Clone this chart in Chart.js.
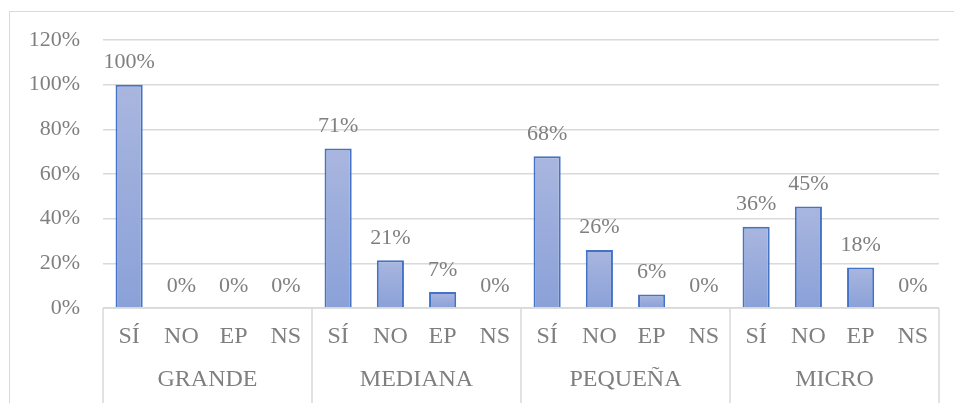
<!DOCTYPE html>
<html>
<head>
<meta charset="utf-8">
<script src="https://cdn.jsdelivr.net/npm/chart.js@4/dist/chart.umd.min.js"></script>
<style>
  html, body { margin: 0; padding: 0; background: #fff; }
  #wrap { position: relative; width: 954px; height: 403px; overflow: hidden; }
  #frame { position: absolute; left: 9px; top: 11px; width: 960px; height: 420px;
    border: 1.5px solid #d9d9d9; box-sizing: border-box; }
  canvas { position: absolute; left: 0; top: 0; }
</style>
</head>
<body>
<div id="wrap">
  <div id="frame"></div>
  <canvas id="c" width="954" height="403"></canvas>
</div>
<script>
// ---- Data ----
const GROUPS = ["GRANDE", "MEDIANA", "PEQUEÑA", "MICRO"];
const ANSWERS = ["SÍ", "NO", "EP", "NS"];
const VALUES = [
  100, 0, 0, 0,
  71.43, 21.43, 7.14, 0,
  68, 26, 6, 0,
  36.36, 45.45, 18.18, 0,
];
const LABELS = GROUPS.flatMap(() => ANSWERS);
const Y_TICKS = [0, 20, 40, 60, 80, 100, 120];

const FONT = "'Liberation Serif', 'Times New Roman', serif";
const TXT = "#7f7f7f";
const GRID = "#d9d9d9";

// bar fill: light on top, deeper blue at base (one gradient per bar)
function barFill(ctx) {
  const c = ctx.chart, y = c.scales.y;
  if (!y || !c.chartArea || ctx.parsed == null) return "#9aabdc";
  const top = y.getPixelForValue(ctx.parsed.y), base = y.getPixelForValue(0);
  if (base - top < 1) return "#9aabdc";
  const g = c.ctx.createLinearGradient(0, top, 0, base);
  g.addColorStop(0, "#a9b6df");
  g.addColorStop(1, "#8aa1d8");
  return g;
}

// value labels above bars, group labels + separators under the axis
const extras = {
  id: "extras",
  afterDatasetsDraw(chart) {
    const { ctx } = chart;
    const meta = chart.getDatasetMeta(0);
    ctx.save();
    ctx.font = `22px ${FONT}`;
    ctx.fillStyle = TXT;
    ctx.textAlign = "center";
    ctx.textBaseline = "alphabetic";
    meta.data.forEach((bar, i) => {
      ctx.fillText(Math.round(VALUES[i]) + "%", bar.x, bar.y - 16.5);
    });
    ctx.restore();
  },
  afterDraw(chart) {
    const { ctx, chartArea } = chart;
    const x = chart.scales.x;
    const step = x.getPixelForValue(1) - x.getPixelForValue(0);
    ctx.save();
    ctx.strokeStyle = GRID;
    ctx.lineWidth = 1.5;
    ctx.beginPath();
    ctx.moveTo(chartArea.left, chartArea.bottom);
    ctx.lineTo(chartArea.right, chartArea.bottom);
    for (let g = 0; g <= GROUPS.length; g++) {
      const px = x.getPixelForValue(g * ANSWERS.length) - step / 2;
      ctx.moveTo(px, chartArea.bottom);
      ctx.lineTo(px, chart.height);
    }
    ctx.stroke();
    ctx.font = `24px ${FONT}`;
    ctx.fillStyle = TXT;
    ctx.textAlign = "center";
    ctx.textBaseline = "middle";
    GROUPS.forEach((name, g) => {
      const a = x.getPixelForValue(g * ANSWERS.length);
      const b = x.getPixelForValue(g * ANSWERS.length + ANSWERS.length - 1);
      ctx.fillText(name, (a + b) / 2, 380);
    });
    ctx.restore();
  },
};

new Chart(document.getElementById("c"), {
  type: "bar",
  data: {
    labels: LABELS,
    datasets: [{
      data: VALUES,
      backgroundColor: barFill,
      borderColor: "#4472c4",
      borderWidth: 2,
      borderSkipped: "bottom",
      barPercentage: 0.52,
      categoryPercentage: 1,
    }],
  },
  options: {
    responsive: false,
    animation: false,
    layout: { padding: { top: 40, right: 15, bottom: 0, left: 0 } },
    plugins: { legend: { display: false }, tooltip: { enabled: false } },
    scales: {
      x: {
        grid: { display: false },
        border: { display: false },
        ticks: { color: TXT, font: { family: FONT, size: 24 }, padding: 6, maxRotation: 0, autoSkip: false },
        afterFit: (s) => { s.height = 95; },
      },
      y: {
        min: 0, max: 120,
        afterBuildTicks: (s) => { s.ticks = Y_TICKS.map((v) => ({ value: v })); },
        grid: { color: GRID, lineWidth: 1.5, drawTicks: false },
        border: { display: false },
        ticks: { color: TXT, font: { family: FONT, size: 22 }, padding: 23, callback: (v) => v + "%" },
        afterFit: (s) => { s.width = 103; },
      },
    },
  },
  plugins: [extras],
});
</script>
</body>
</html>
